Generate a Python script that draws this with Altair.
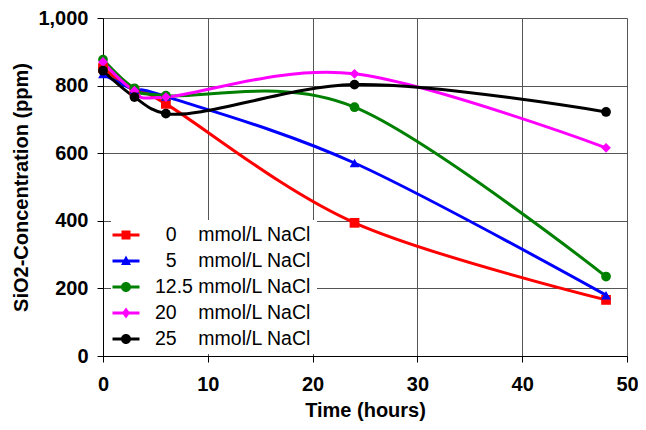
import altair as alt
import pandas as pd

# ---- data ----
time_h = [0, 3, 6, 24, 48]
Z = "\u200b"       # zero-width lead so the padding spaces are kept
S = "\u00a0"
series_labels = [
    Z + S * 2 + "0" + S * 4 + "mmol/L NaCl",
    Z + S * 2 + "5" + S * 4 + "mmol/L NaCl",
    "12.5" + S + "mmol/L NaCl",
    "20" + S * 4 + "mmol/L NaCl",
    "25" + S * 4 + "mmol/L NaCl",
]
sio2_0 = [852, 785, 746, 394, 166]
sio2_5 = [834, 788, 768, 571, 180]
sio2_12_5 = [877, 792, 770, 736, 235]
sio2_20 = [870, 785, 766, 835, 616]
sio2_25 = [844, 766, 717, 803, 722]

colors = ["#FF0000", "#0000FF", "#008000", "#FF00FF", "#000000"]
plot_shapes = ["square", "triangle-up", "circle", "diamond", "circle"]

# legend symbols: a short line with the marker on it (custom SVG paths)
bar = "M-1.35,-0.15H1.35V0.15H-1.35Z"
legend_shapes = [
    bar + "M-0.45,-0.45H0.45V0.45H-0.45Z",
    bar + "M0,-0.55L0.5,0.4L-0.5,0.4Z",
    bar + "M-0.5,0A0.5,0.5 0 1,1 0.5,0A0.5,0.5 0 1,1 -0.5,0Z",
    bar + "M0,-0.55L0.4,0L0,0.55L-0.4,0Z",
    bar + "M-0.5,0A0.5,0.5 0 1,1 0.5,0A0.5,0.5 0 1,1 -0.5,0Z",
]

rows = []
for lab, vals in zip(series_labels, [sio2_0, sio2_5, sio2_12_5, sio2_20, sio2_25]):
    for t, v in zip(time_h, vals):
        rows.append({"t": t, "v": v, "s": lab})
df = pd.DataFrame(rows)

FONT = "Liberation Sans"

x = alt.X("t:Q", scale=alt.Scale(domain=[0, 50], nice=False),
          axis=alt.Axis(title="Time (hours)", values=[0, 10, 20, 30, 40, 50]))
y = alt.Y("v:Q", scale=alt.Scale(domain=[0, 1000], nice=False),
          axis=alt.Axis(title="SiO2-Concentration (ppm)", format=",.0f",
                        values=[0, 200, 400, 600, 800, 1000]))

color_nolegend = alt.Color("s:N", scale=alt.Scale(domain=series_labels, range=colors), legend=None)

base = alt.Chart(df)

lines_main = base.transform_filter(alt.datum.s != series_labels[4]).mark_line(
    interpolate="cardinal", strokeWidth=3
).encode(x=x, y=y, color=color_nolegend, detail="s:N")

lines_black = base.transform_filter(alt.datum.s == series_labels[4]).mark_line(
    interpolate="catmull-rom", strokeWidth=3
).encode(x=x, y=y, color=color_nolegend, detail="s:N")

points = base.mark_point(filled=True, opacity=1, size=95).encode(
    x=x, y=y, color=color_nolegend,
    shape=alt.Shape("s:N", scale=alt.Scale(domain=series_labels, range=plot_shapes), legend=None),
)

leg = dict(title=None, orient="none", legendX=8, legendY=202,
           symbolSize=400, symbolStrokeWidth=0,
           labelFont=FONT, labelFontSize=19.5, labelColor="#000",
           labelOffset=19, rowPadding=6, padding=5,
           fillColor="white", labelLimit=400)

legend_layer = base.transform_filter("false").mark_point(filled=True, opacity=1).encode(
    x=x, y=y,
    color=alt.Color("s:N", scale=alt.Scale(domain=series_labels, range=colors),
                    legend=alt.Legend(**leg)),
    shape=alt.Shape("s:N", scale=alt.Scale(domain=series_labels, range=legend_shapes),
                    legend=alt.Legend(**leg)),
)

chart = alt.layer(lines_main, lines_black, points, legend_layer).resolve_scale(
    color="independent", shape="independent"
).properties(
    width=524, height=338,
    autosize=alt.AutoSizeParams(type="none"),
    padding={"left": 95, "top": 10, "right": 11, "bottom": 66},
    background="white",
).configure_view(
    stroke=None
).configure_axis(
    grid=True, gridColor="#555555", gridWidth=1, gridOpacity=1,
    domainColor="#000", domainWidth=1, tickColor="#000", tickSize=6, tickWidth=1,
    labelFont=FONT, labelFontSize=20, labelFontWeight="bold", labelColor="#000",
    titleFont=FONT, titleFontSize=20, titleFontWeight="bold", titleColor="#000",
).configure_axisX(
    labelPadding=12, titlePadding=6, labelFlush=False,
).configure_axisY(
    labelPadding=9, titlePadding=6,
)

chart.save("out.html", embed_options={"renderer": "svg", "actions": False})
